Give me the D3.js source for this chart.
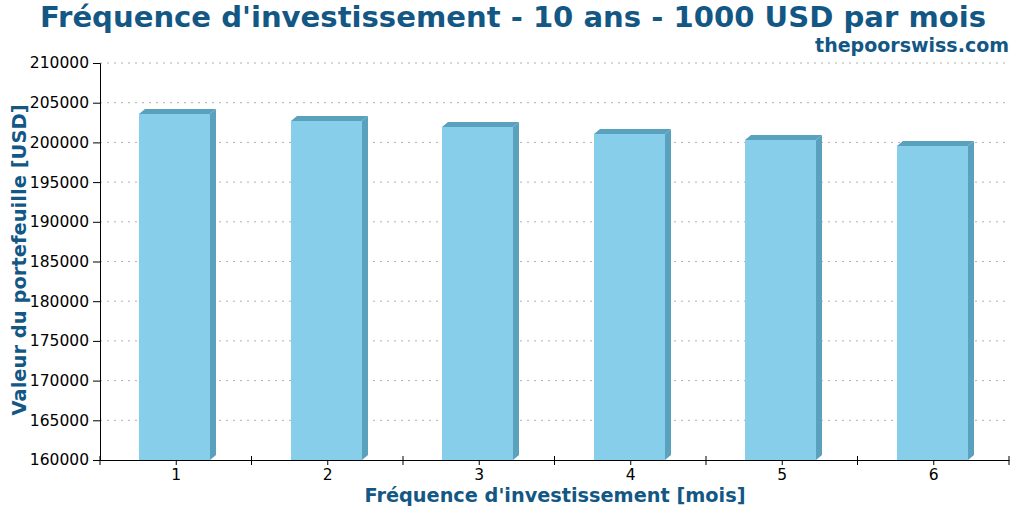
<!DOCTYPE html>
<html><head><meta charset="utf-8">
<script src="https://cdn.jsdelivr.net/npm/d3@7"></script>
<style>body{margin:0;background:#fff}svg{display:block;font-family:"DejaVu Sans",sans-serif}</style>
</head><body><svg id="c" width="1024" height="512"></svg>
<script>
const categories = [1, 2, 3, 4, 5, 6];
const values = [203580, 202700, 201940, 201060, 200300, 199550];
const yTicks = [160000,165000,170000,175000,180000,185000,190000,195000,200000,205000,210000];
const titleText = "Fréquence d'investissement - 10 ans - 1000 USD par mois";
const subtitleText = "thepoorswiss.com";
const xLabel = "Fréquence d'investissement [mois]";
const yLabel = "Valeur du portefeuille [USD]";

const svg = d3.select("#c");
const m = {l:100, r:1009, t:63, b:460};
const blue = "#135785";
const x = d3.scaleLinear().domain([0.5, 6.5]).range([m.l, m.r]);
const y = d3.scaleLinear().domain([160000, 210000]).range([m.b, m.t]);

// grid
svg.append("g").selectAll("line").data(yTicks.slice(1)).join("line")
  .attr("x1", m.l).attr("x2", m.r).attr("y1", d=>y(d)).attr("y2", d=>y(d))
  .attr("stroke", "#b0b0b0").attr("stroke-dasharray", "2,5").attr("stroke-width", 1);

// bars
const fw = 71, dx = 6, dy = 5;
const bars = svg.append("g").selectAll("g").data(categories).join("g");
bars.each(function(c, i){
  const g = d3.select(this);
  const L = Math.round(x(c) - 36.5), R = L + fw, T = Math.round(y(values[i])), B = y(160000);
  g.append("path").attr("d", `M${R},${T}L${R+dx},${T-dy}L${R+dx},${B-dy}L${R},${B}Z`).attr("fill", "#5aa1be");
  g.append("path").attr("d", `M${L},${T}L${L+dx},${T-dy}L${R+dx},${T-dy}L${R},${T}Z`).attr("fill", "#5aa1be");
  g.append("rect").attr("x", L).attr("y", T).attr("width", fw).attr("height", B - T).attr("fill", "#87ceeb");
});

// y axis
const ya = svg.append("g").attr("transform", `translate(${m.l},0)`)
  .call(d3.axisLeft(y).tickValues(yTicks).tickFormat(d3.format("d")).tickSize(7).tickPadding(4));
ya.select(".domain").attr("stroke", "#000");
ya.selectAll("text").attr("font-size", 15.5).attr("fill", "#000").attr("font-family", "DejaVu Sans");

// x axis
const xa = svg.append("g").attr("transform", `translate(0,${m.b})`)
  .call(d3.axisBottom(x).tickValues(categories).tickFormat(d3.format("d")).tickSize(5).tickPadding(4).tickSizeOuter(0));
xa.select(".domain").attr("stroke", "#000");
xa.selectAll("text").attr("font-size", 15.5).attr("fill", "#000").attr("font-family", "DejaVu Sans");
const bounds = d3.range(0.5, 7, 1);
xa.selectAll(".minor").data(bounds).join("line").attr("class","minor")
  .attr("x1", d=>x(d)).attr("x2", d=>x(d)).attr("y1", -4).attr("y2", 5).attr("stroke", "#000");

// titles
svg.append("text").attr("x", 513).attr("y", 27).attr("text-anchor", "middle")
  .attr("font-size", 29.1).attr("font-weight", "bold").attr("fill", blue).text(titleText);
svg.append("text").attr("x", 1009).attr("y", 52).attr("text-anchor", "end")
  .attr("font-size", 19).attr("font-weight", "bold").attr("fill", blue).text(subtitleText);
svg.append("text").attr("x", 555).attr("y", 502).attr("text-anchor", "middle")
  .attr("font-size", 19.3).attr("font-weight", "bold").attr("fill", blue).text(xLabel);
svg.append("text").attr("transform", "translate(26,260) rotate(-90)").attr("text-anchor", "middle")
  .attr("font-size", 19.5).attr("font-weight", "bold").attr("fill", blue).text(yLabel);
</script></body></html>
